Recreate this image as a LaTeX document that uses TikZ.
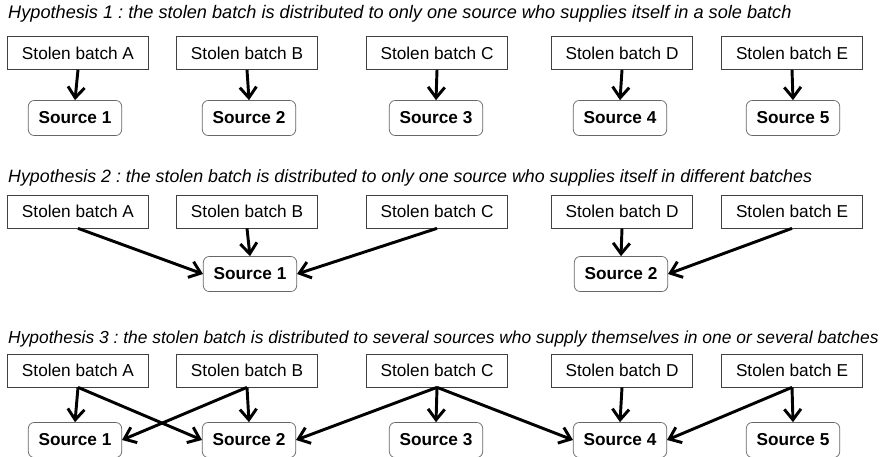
\documentclass[tikz,border=0pt]{standalone}
\usepackage{fontspec}
\setmainfont{Liberation Sans}
\usetikzlibrary{arrows.meta}
\frenchspacing

\newcommand{\fs}{\fontsize{14.7}{17}\selectfont}

\begin{document}
\begin{tikzpicture}[x=0.03cm,y=-0.03cm,
  hyp/.style={anchor=base west,inner sep=0pt,font=\fontsize{#1}{17}\selectfont\itshape},
  batch/.style={draw=black!75,line width=0.6pt,inner sep=0pt,minimum width=4.22cm,minimum height=0.99cm,font=\fs},
  source/.style={draw=black!60,line width=0.6pt,rounded corners=5pt,inner sep=0pt,minimum width=2.8cm,minimum height=1.05cm,font=\fs\bfseries},
  flow/.style={-{Straight Barb[length=3.2mm,width=5mm]},line width=2.5pt}]
\useasboundingbox (0,0) rectangle (881,457);

% hypothesis 1: one batch -> one source
\node[hyp=15.5] (t1) at (8,19) {Hypothesis 1 : the stolen batch is distributed to only one source who supplies itself in a sole batch};
\foreach \b/\x in {A/78,B/247,C/437,D/622,E/792}
  \node[batch] (h1\b) at (\x,53) {Stolen batch \b};
\foreach \s/\x in {1/75,2/249,3/436,4/620,5/793}
  \node[source] (h1s\s) at (\x,118) {Source \s};
\foreach \b/\s in {A/1,B/2,C/3,D/4,E/5}
  \draw[flow] (h1\b.south) -- (h1s\s.north);

% hypothesis 2: several batches -> one source
\node[hyp=15.2] (t2) at (8,183) {Hypothesis 2 : the stolen batch is distributed to only one source who supplies itself in different batches};
\foreach \b/\x in {A/78,B/247,C/437,D/622,E/792}
  \node[batch] (h2\b) at (\x,211.5) {Stolen batch \b};
\node[source] (h2s1) at (250,274) {Source 1};
\node[source] (h2s2) at (621,274) {Source 2};
\draw[flow] (h2A.south) -- (h2s1.west);
\draw[flow] (h2B.south) -- (h2s1.north);
\draw[flow] (h2C.south) -- (h2s1.east);
\draw[flow] (h2D.south) -- (h2s2.north);
\draw[flow] (h2E.south) -- (h2s2.east);

% hypothesis 3: batches shared between sources
\node[hyp=14.85] (t3) at (8,343) {Hypothesis 3 : the stolen batch is distributed to several sources who supply themselves in one or several batches};
\foreach \b/\x in {A/78,B/247,C/437,D/622,E/792}
  \node[batch] (h3\b) at (\x,370.5) {Stolen batch \b};
\foreach \s/\x in {1/75,2/249,3/436,4/620,5/793}
  \node[source] (h3s\s) at (\x,440) {Source \s};
\foreach \b/\s in {A/1,B/2,C/3,D/4,E/5}
  \draw[flow] (h3\b.south) -- (h3s\s.north);
\draw[flow] (h3A.south) -- (h3s2.west);
\draw[flow] (h3B.south) -- (h3s1.east);
\draw[flow] (h3C.south) -- (h3s2.east);
\draw[flow] (h3C.south) -- (h3s4.west);
\draw[flow] (h3E.south) -- (h3s4.east);
\end{tikzpicture}
\end{document}
